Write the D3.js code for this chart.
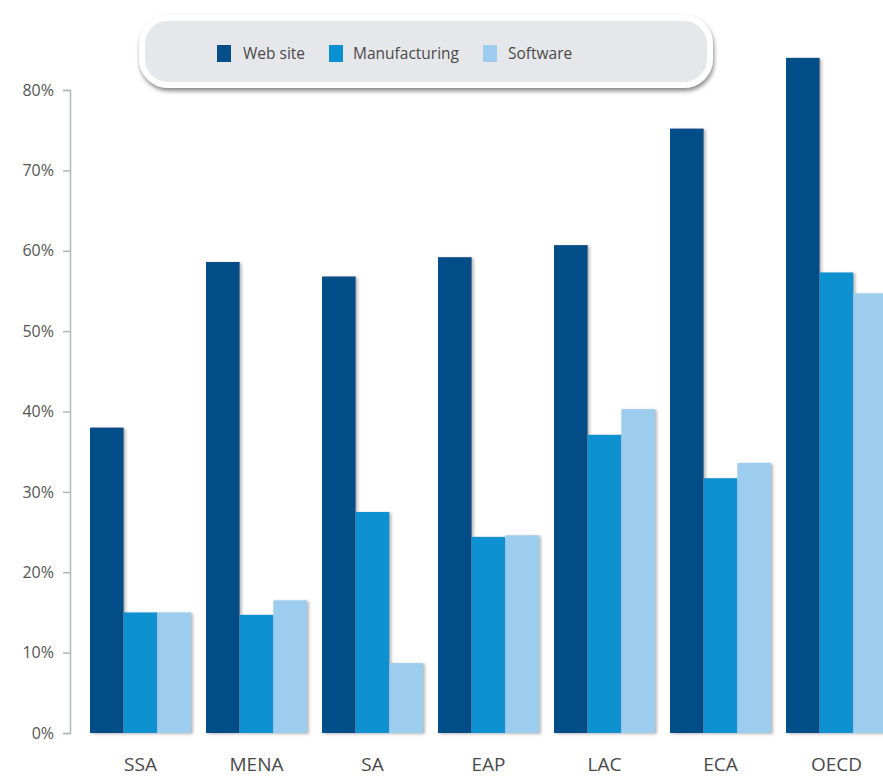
<!DOCTYPE html>
<html>
<head>
<meta charset="utf-8">
<script src="https://cdn.jsdelivr.net/npm/d3@7"></script>
<style>
  html, body { margin: 0; padding: 0; background: #ffffff; }
  svg { display: block; }
</style>
</head>
<body>
<svg id="chart" width="883" height="779"></svg>
<script>
// ---- data ----
const categories = ["SSA", "MENA", "SA", "EAP", "LAC", "ECA", "OECD"];
const seriesNames = ["Web site", "Manufacturing", "Software"];
const webSite      = [38.0, 58.6, 56.8, 59.2, 60.7, 75.2, 84.0];
const manufacturing = [15.0, 14.7, 27.5, 24.4, 37.1, 31.7, 57.3];
const software     = [15.0, 16.5, 8.7, 24.6, 40.3, 33.6, 54.7];
const yTicks = [0, 10, 20, 30, 40, 50, 60, 70, 80];
const colors = ["#064e87", "#0891d1", "#9ccdee"];

const seriesValues = [webSite, manufacturing, software];

const svg = d3.select("#chart");
const defs = svg.append("defs");

const shadow = defs.append("filter").attr("id", "barShadow")
  .attr("x", "-20%").attr("y", "-5%").attr("width", "150%").attr("height", "115%");
shadow.append("feDropShadow").attr("dx", 2).attr("dy", 1).attr("stdDeviation", 1.6)
  .attr("flood-color", "#7a7a7a").attr("flood-opacity", 0.55);

const boxShadow = defs.append("filter").attr("id", "boxShadow")
  .attr("x", "-10%").attr("y", "-20%").attr("width", "120%").attr("height", "150%");
boxShadow.append("feDropShadow").attr("dx", 1).attr("dy", 3).attr("stdDeviation", 2.2)
  .attr("flood-color", "#555").attr("flood-opacity", 0.7);

// ---- scales ----
const y = d3.scaleLinear().domain([0, 80]).range([733, 90]);
const x0 = d3.scaleBand().domain(categories).range([90, 887])
  .paddingInner(15 / 116).paddingOuter(0);
const x1 = d3.scaleBand().domain(seriesNames).range([0, x0.bandwidth()]).padding(0);

// ---- y axis ----
const yAxis = d3.axisLeft(y).tickValues(yTicks).tickFormat(d => d + "%")
  .tickSize(7).tickPadding(9);
const gy = svg.append("g").attr("transform", "translate(70,0)").call(yAxis);
gy.select(".domain").attr("stroke", "#b4b6ba").attr("stroke-width", 1.5);
gy.selectAll(".tick line").attr("stroke", "#b4b6ba").attr("stroke-width", 1.5);
gy.selectAll(".tick text").attr("fill", "#555").attr("font-size", 16)
  .attr("font-family", "'Open Sans', sans-serif");

// ---- bars ----
const groups = svg.append("g").selectAll("g")
  .data(categories).join("g")
  .attr("transform", d => `translate(${x0(d)},0)`);

groups.selectAll("rect")
  .data((c, i) => seriesNames.map((s, j) => ({ s, v: seriesValues[j][i], j })))
  .join("rect")
  .attr("x", d => x1(d.s))
  .attr("y", d => y(d.v))
  .attr("width", x1.bandwidth())
  .attr("height", d => y(0) - y(d.v))
  .attr("fill", d => colors[d.j])
  .attr("filter", "url(#barShadow)");

// ---- x labels ----
svg.append("g").selectAll("text")
  .data(categories).join("text")
  .attr("x", d => x0(d) + x0.bandwidth() / 2)
  .attr("y", 771)
  .attr("text-anchor", "middle")
  .attr("font-family", "'Open Sans', sans-serif")
  .attr("font-size", 19)
  .attr("fill", "#4a4a4a")
  .text(d => d);

// ---- legend ----
const legend = svg.append("g");
legend.append("rect")
  .attr("x", 142).attr("y", 18).attr("width", 568).attr("height", 67)
  .attr("rx", 26).attr("ry", 26)
  .attr("fill", "#e6e7ea").attr("stroke", "#ffffff").attr("stroke-width", 6)
  .attr("filter", "url(#boxShadow)");

const legendSwatchX = [217, 329, 483];
const legendTextX = [243, 353, 508];
const li = legend.selectAll("g.item").data(seriesNames).join("g").attr("class", "item");
li.append("rect")
  .attr("x", (d, i) => legendSwatchX[i]).attr("y", 45)
  .attr("width", 14).attr("height", 17)
  .attr("fill", (d, i) => colors[i]);
li.append("text")
  .attr("x", (d, i) => legendTextX[i]).attr("y", 59)
  .attr("font-family", "'Open Sans', sans-serif")
  .attr("font-size", 15.5)
  .attr("fill", "#4a4a4a")
  .text(d => d);
</script>
</body>
</html>
